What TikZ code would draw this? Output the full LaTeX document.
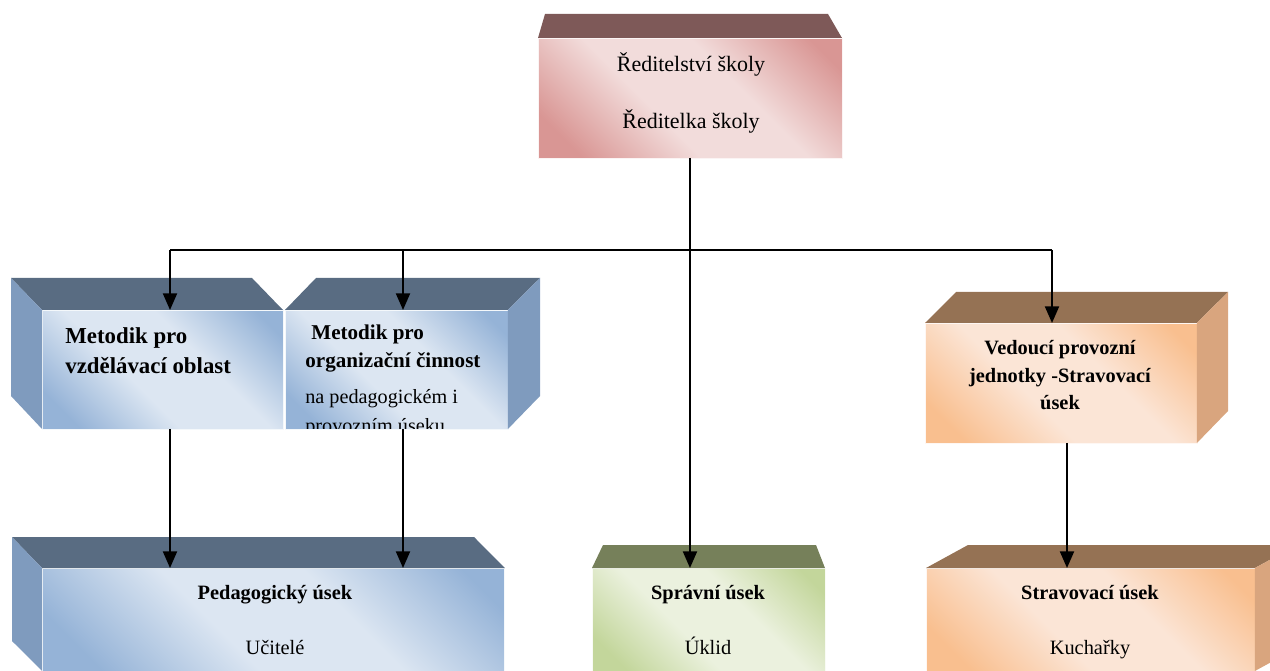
\documentclass[tikz,border=0pt]{standalone}
\usepackage{fontspec}
\setmainfont{Liberation Serif}
\usetikzlibrary{arrows.meta,calc}
\definecolor{bluetop}{HTML}{596C82}
\definecolor{blueside}{HTML}{7F9BBE}
\definecolor{bluelight}{HTML}{DCE6F2}
\definecolor{bluedark}{HTML}{95B3D7}
\definecolor{pinktop}{HTML}{7E5958}
\definecolor{pinklight}{HTML}{F2DCDB}
\definecolor{pinkdark}{HTML}{D99694}
\definecolor{orgtop}{HTML}{957254}
\definecolor{orgside}{HTML}{D9A57E}
\definecolor{orglight}{HTML}{FBE5D6}
\definecolor{orgdark}{HTML}{F9BF8F}
\definecolor{greentop}{HTML}{76805A}
\definecolor{greenlight}{HTML}{EBF1DE}
\definecolor{greendark}{HTML}{C3D69B}
\pgfdeclarehorizontalshading{blueshade}{100bp}{color(0bp)=(bluedark); color(22bp)=(bluedark); color(42bp)=(bluelight); color(60bp)=(bluelight); color(80bp)=(bluedark); color(100bp)=(bluedark)}
\pgfdeclarehorizontalshading{pinkshade}{100bp}{color(0bp)=(pinkdark); color(22bp)=(pinkdark); color(42bp)=(pinklight); color(60bp)=(pinklight); color(80bp)=(pinkdark); color(100bp)=(pinkdark)}
\pgfdeclarehorizontalshading{orgshade}{100bp}{color(0bp)=(orgdark); color(22bp)=(orgdark); color(42bp)=(orglight); color(60bp)=(orglight); color(80bp)=(orgdark); color(100bp)=(orgdark)}
\pgfdeclarehorizontalshading{greenshade}{100bp}{color(0bp)=(greendark); color(22bp)=(greendark); color(42bp)=(greenlight); color(60bp)=(greenlight); color(80bp)=(greendark); color(100bp)=(greendark)}
\tikzset{
  front/.style={anchor=north west, inner sep=0pt, outer sep=0pt, draw=white!70!#1light, line width=0.5pt, shade, shading=#1shade, shading angle=45},
  txt/.style={inner sep=0pt, font=\fontsize{11.6pt}{14pt}\selectfont},
  txtb/.style={txt, font=\fontsize{11.6pt}{14pt}\selectfont\bfseries},
  conn/.style={line width=1.1pt, black},
  arr/.style={conn, -{Triangle[length=9.5pt,width=8pt]}},
}
\begin{document}
\begin{tikzpicture}[x=0.02cm,y=-0.02cm]
\useasboundingbox (0,0) rectangle (1270,671);
\begin{scope}
\clip (0,0) rectangle (1270,671);
% front faces
\node[front=pink, minimum width=6.08cm, minimum height=2.4cm] (dir) at (538,38) {};
\node[front=blue, minimum width=4.82cm, minimum height=2.38cm] (m1) at (42,310) {};
\node[front=blue, minimum width=4.46cm, minimum height=2.38cm] (m2) at (285,310) {};
\node[front=org, minimum width=5.44cm, minimum height=2.4cm] (ved) at (925,323) {};
\node[front=blue, minimum width=9.26cm, minimum height=2.06cm] (ped) at (42,568) {};
\node[front=green, minimum width=4.66cm, minimum height=2.06cm] (spr) at (592,568) {};
\node[front=org, minimum width=6.58cm, minimum height=2.06cm] (str) at (926,568) {};
% top and side faces
\fill[pinktop] (dir.north west) -- (545,14) -- (828,14) -- (dir.north east) -- cycle;
\fill[bluetop] (m1.north west) -- (11,278) -- (252,278) -- (m1.north east) -- cycle;
\fill[blueside] (m1.north west) -- (11,278) -- (11,396) -- (m1.south west) -- cycle;
\fill[bluetop] (m2.north west) -- (316,278) -- (540,278) -- (m2.north east) -- cycle;
\fill[blueside] (m2.north east) -- (540,278) -- (540,396) -- (m2.south east) -- cycle;
\fill[orgtop] (ved.north west) -- (956,292) -- (1228,292) -- (ved.north east) -- cycle;
\fill[orgside] (ved.north east) -- (1228,292) -- (1228,411) -- (ved.south east) -- cycle;
\fill[bluetop] (ped.north west) -- (12,537) -- (474,537) -- (ped.north east) -- cycle;
\fill[blueside] (ped.north west) -- (12,537) -- (12,641) -- (ped.south west) -- cycle;
\fill[greentop] (spr.north west) -- (603,545) -- (816,545) -- (spr.north east) -- cycle;
\fill[orgtop] (str.north west) -- (968,545) -- (1297,545) -- (str.north east) -- cycle;
\fill[orgside] (str.north east) -- (1297,545) -- (1297,648) -- (str.south east) -- cycle;
% texts
\node[txt, anchor=base, font=\fontsize{12.5pt}{15pt}\selectfont] (dirA) at (691,72) {Ředitelství školy};
\node[txt, anchor=base, font=\fontsize{12.5pt}{15pt}\selectfont] (dirB) at (691,129) {Ředitelka školy};
\node[txtb, anchor=base west, font=\fontsize{13pt}{16pt}\selectfont\bfseries] (m1a) at (65,344) {Metodik pro};
\node[txtb, anchor=base west, font=\fontsize{13pt}{16pt}\selectfont\bfseries] (m1b) at (65,374) {vzdělávací oblast};
\begin{scope}
\clip (m2.north west) rectangle (m2.south east);
\node[txtb, anchor=base west, font=\fontsize{12pt}{15pt}\selectfont\bfseries] (m2a) at (311,340) {Metodik pro};
\node[txtb, anchor=base west, font=\fontsize{12pt}{15pt}\selectfont\bfseries] (m2b) at (305,368) {organizační činnost};
\node[txt, anchor=base west, font=\fontsize{11.5pt}{14pt}\selectfont] (m2c) at (305,404) {na pedagogickém i};
\node[txt, anchor=base west, font=\fontsize{11.5pt}{14pt}\selectfont] (m2d) at (305,433) {provozním úseku};
\end{scope}
\node[txtb, anchor=base] (veda) at (1060,355) {Vedoucí provozní};
\node[txtb, anchor=base] (vedb) at (1060,383) {jednotky -Stravovací};
\node[txtb, anchor=base] (vedc) at (1060,410) {úsek};
\node[txtb, anchor=base] (peda) at (275,599) {Pedagogický úsek};
\node[txt, anchor=base] (pedb) at (275,654) {Učitelé};
\node[txtb, anchor=base] (spra) at (708,599) {Správní úsek};
\node[txt, anchor=base] (sprb) at (708,654) {Úklid};
\node[txtb, anchor=base] (stra) at (1090,599) {Stravovací úsek};
\node[txt, anchor=base] (strb) at (1090,654) {Kuchařky};
% connectors
\coordinate (busL) at (170,250);
\coordinate (busM) at (403,250);
\coordinate (busR) at (1052,250);
\coordinate (vx) at (1067,0);
\draw[conn] (busL) -- (busR);
\draw[arr] (dir.south) -- (dir.south |- spr.north);
\draw[arr] (busL) -- (busL |- m1.north);
\draw[arr] (busM) -- (busM |- m2.north);
\draw[arr] (busR) -- (busR |- ved.north);
\draw[arr] (busL |- m1.south) -- (busL |- ped.north);
\draw[arr] (busM |- m2.south) -- (busM |- ped.north);
\draw[arr] (vx |- ved.south) -- (vx |- str.north);
\end{scope}
\end{tikzpicture}
\end{document}
